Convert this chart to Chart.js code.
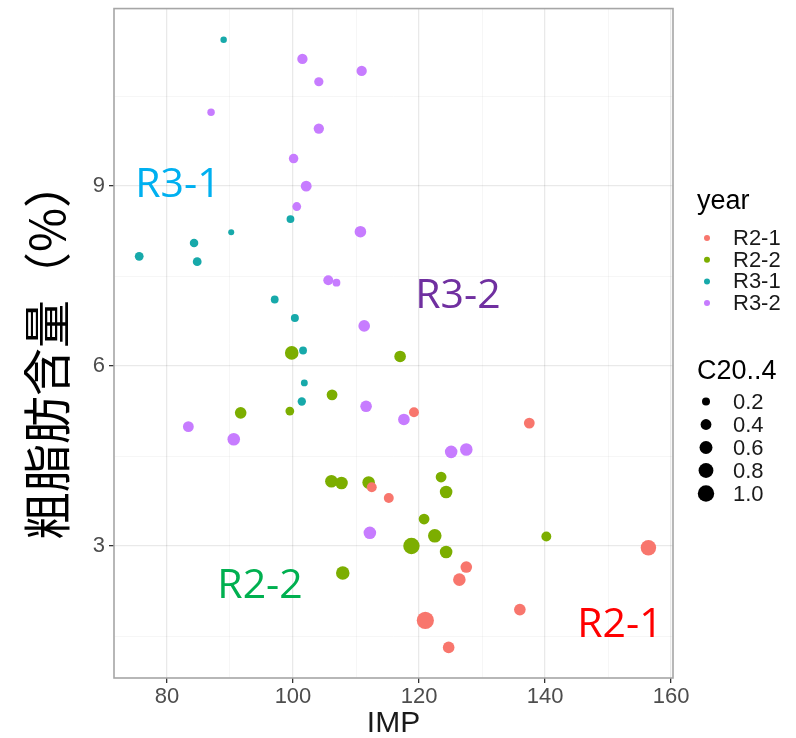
<!DOCTYPE html>
<html>
<head>
<meta charset="utf-8">
<script src="https://cdn.jsdelivr.net/npm/chart.js@4.4.0/dist/chart.umd.min.js"></script>
<style>
  html, body { margin: 0; padding: 0; background: #fff; }
</style>
</head>
<body>
<canvas id="chart" width="796" height="738"></canvas>
<script>
// groups (year) and their colours
const groups = ['R2-1', 'R2-2', 'R3-1', 'R3-2'];
const groupColors = ['#F8766D', '#7CAE00', '#17A9AA', '#C77CFF'];

// IMP (x), crude fat % (y), C20..4 (size) per group
const r21X = [112.5, 115.2, 119.2, 137.5, 156.4, 127.5, 126.4, 136.0, 121.0, 124.7];
const r21Y = [3.98, 3.80, 5.23, 5.05, 2.97, 2.65, 2.44, 1.94, 1.76, 1.31];
const r21S = [0.33, 0.33, 0.33, 0.40, 0.88, 0.47, 0.56, 0.47, 1.10, 0.47];

const r22X = [99.8, 117.0, 106.2, 91.7, 99.5, 106.1, 107.7, 112.0, 107.9, 123.5, 124.3, 120.8, 122.5, 118.8, 124.3, 140.2];
const r22Y = [6.22, 6.16, 5.52, 5.22, 5.25, 4.08, 4.05, 4.06, 2.55, 4.15, 3.90, 3.45, 3.17, 3.00, 2.90, 3.16];
const r22S = [0.66, 0.47, 0.40, 0.47, 0.25, 0.56, 0.56, 0.56, 0.66, 0.40, 0.56, 0.40, 0.66, 1.00, 0.56, 0.33];

const r31X = [89.0, 99.6, 90.2, 84.3, 75.6, 84.8, 97.1, 100.3, 101.6, 101.8, 101.4];
const r31Y = [11.44, 8.45, 8.23, 8.05, 7.83, 7.74, 7.11, 6.80, 6.26, 5.72, 5.41];
const r31S = [0.12, 0.19, 0.10, 0.23, 0.25, 0.25, 0.19, 0.20, 0.19, 0.14, 0.22];

const r32X = [101.5, 110.9, 104.1, 87.0, 104.1, 100.1, 102.1, 100.6, 110.7, 105.6, 106.9, 111.3, 111.6, 83.4, 90.6, 112.2, 117.6, 125.1, 127.5];
const r32Y = [11.12, 10.92, 10.74, 10.23, 9.96, 9.46, 9.00, 8.66, 8.24, 7.43, 7.39, 6.67, 5.33, 4.99, 4.78, 3.22, 5.11, 4.57, 4.61];
const r32S = [0.36, 0.36, 0.28, 0.17, 0.36, 0.30, 0.40, 0.25, 0.47, 0.33, 0.19, 0.47, 0.47, 0.40, 0.56, 0.56, 0.47, 0.56, 0.56];

const xValues = [r21X, r22X, r31X, r32X];
const yValues = [r21Y, r22Y, r31Y, r32Y];
const sizeValues = [r21S, r22S, r31S, r32S];

// axis ticks (majors get labels)
const xTicks = [80, 90, 100, 110, 120, 130, 140, 150, 160];
const xLabels = [80, 100, 120, 140, 160];
const yTicks = [1.5, 3, 4.5, 6, 7.5, 9, 10.5];
const yLabels = [3, 6, 9];
const sizeBreaks = [0.2, 0.4, 0.6, 0.8, 1.0];

const yTitle = '粗脂肪含量（%）';

function radius(v) {
  return 0.6 + 7.6 * Math.sqrt(v);
}

// region annotations, placed in data units
const notes = [
  { text: 'R3-1', x: 74.97, y: 8.82, color: '#00B0F0' },
  { text: 'R3-2', x: 119.4, y: 6.97, color: '#7030A0' },
  { text: 'R2-2', x: 88.0, y: 2.14, color: '#00B050' },
  { text: 'R2-1', x: 145.1, y: 1.48, color: '#FF0000' }
];

const decor = {
  id: 'decor',
  afterDraw(chart) {
    const { ctx, chartArea: a, scales: { x, y } } = chart;
    ctx.save();

    // panel border
    ctx.strokeStyle = '#A6A6A6';
    ctx.lineWidth = 1.6;
    ctx.strokeRect(a.left, a.top, a.right - a.left, a.bottom - a.top);

    // region labels
    ctx.font = '41px "Open Sans"';
    ctx.textAlign = 'left';
    ctx.textBaseline = 'alphabetic';
    notes.forEach(n => {
      ctx.fillStyle = n.color;
      ctx.fillText(n.text, x.getPixelForValue(n.x), y.getPixelForValue(n.y));
    });

    // y axis title
    ctx.save();
    ctx.translate(47, 350);
    ctx.rotate(-Math.PI / 2);
    ctx.font = '48px "Noto Sans CJK JP"';
    ctx.fillStyle = '#000';
    ctx.textAlign = 'center';
    ctx.textBaseline = 'middle';
    ctx.fillText(yTitle, 0, 0);
    ctx.restore();

    // legend: year
    ctx.fillStyle = '#000';
    ctx.textAlign = 'left';
    ctx.font = '27px "Liberation Sans"';
    ctx.fillText('year', 697, 209);
    ctx.font = '22px "Liberation Sans"';
    ctx.textBaseline = 'middle';
    groups.forEach((g, i) => {
      const cy = 238 + i * 21.7;
      ctx.fillStyle = groupColors[i];
      ctx.beginPath();
      ctx.arc(707, cy, 3, 0, Math.PI * 2);
      ctx.fill();
      ctx.fillStyle = '#1A1A1A';
      ctx.fillText(g, 733, cy + 1);
    });

    // legend: size
    ctx.textBaseline = 'alphabetic';
    ctx.fillStyle = '#000';
    ctx.font = '27px "Liberation Sans"';
    ctx.fillText('C20..4', 697, 379);
    ctx.font = '22px "Liberation Sans"';
    ctx.textBaseline = 'middle';
    sizeBreaks.forEach((b, i) => {
      const cy = 401.5 + i * 23;
      ctx.fillStyle = '#000';
      ctx.beginPath();
      ctx.arc(706, cy, radius(b), 0, Math.PI * 2);
      ctx.fill();
      ctx.fillStyle = '#1A1A1A';
      ctx.fillText(b.toFixed(1), 733, cy + 1);
    });

    ctx.restore();
  }
};

const datasets = groups.map((g, i) => ({
  label: g,
  data: xValues[i].map((v, j) => ({ x: v, y: yValues[i][j], s: sizeValues[i][j] })),
  backgroundColor: groupColors[i],
  borderWidth: 0,
  pointRadius: c => radius(c.raw.s),
  pointHoverRadius: c => radius(c.raw.s)
}));

const gridColor = isMajor => isMajor ? 'rgba(0,0,0,0.085)' : 'rgba(0,0,0,0.045)';

new Chart(document.getElementById('chart').getContext('2d'), {
  type: 'scatter',
  data: { datasets },
  options: {
    responsive: false,
    animation: false,
    layout: { padding: { left: 0, top: 4, right: 123, bottom: 0 } },
    plugins: {
      legend: { display: false },
      tooltip: { enabled: false }
    },
    scales: {
      x: {
        type: 'linear',
        min: 71.6,
        max: 160.3,
        afterBuildTicks: s => { s.ticks = xTicks.map(v => ({ value: v })); },
        afterFit: s => {
          s.height = 60;
          s.paddingLeft = 0;
          s.paddingRight = 0;
        },
        border: { display: false },
        grid: {
          color: c => gridColor(xLabels.includes(c.tick.value)),
          lineWidth: c => xLabels.includes(c.tick.value) ? 1.3 : 0.9,
          tickColor: c => xLabels.includes(c.tick.value) ? '#333' : 'rgba(0,0,0,0)',
          tickLength: 5
        },
        ticks: {
          autoSkip: false,
          maxRotation: 0,
          padding: 1,
          color: '#4D4D4D',
          font: { family: 'Liberation Sans', size: 22 },
          callback: v => xLabels.includes(v) ? v : ''
        },
        title: {
          display: true,
          text: 'IMP',
          color: '#1A1A1A',
          font: { family: 'Liberation Sans', size: 30 },
          padding: { top: 0, bottom: -4 }
        }
      },
      y: {
        type: 'linear',
        min: 0.8,
        max: 11.96,
        afterBuildTicks: s => { s.ticks = yTicks.map(v => ({ value: v })); },
        afterFit: s => {
          s.width = 114;
          s.paddingTop = 0;
          s.paddingBottom = 0;
        },
        border: { display: false },
        grid: {
          color: c => gridColor(yLabels.includes(c.tick.value)),
          lineWidth: c => yLabels.includes(c.tick.value) ? 1.3 : 0.9,
          tickColor: c => yLabels.includes(c.tick.value) ? '#333' : 'rgba(0,0,0,0)',
          tickLength: 5
        },
        ticks: {
          padding: 4,
          color: '#4D4D4D',
          font: { family: 'Liberation Sans', size: 22 },
          callback: v => yLabels.includes(v) ? v : ''
        }
      }
    }
  },
  plugins: [decor]
});
</script>
</body>
</html>
